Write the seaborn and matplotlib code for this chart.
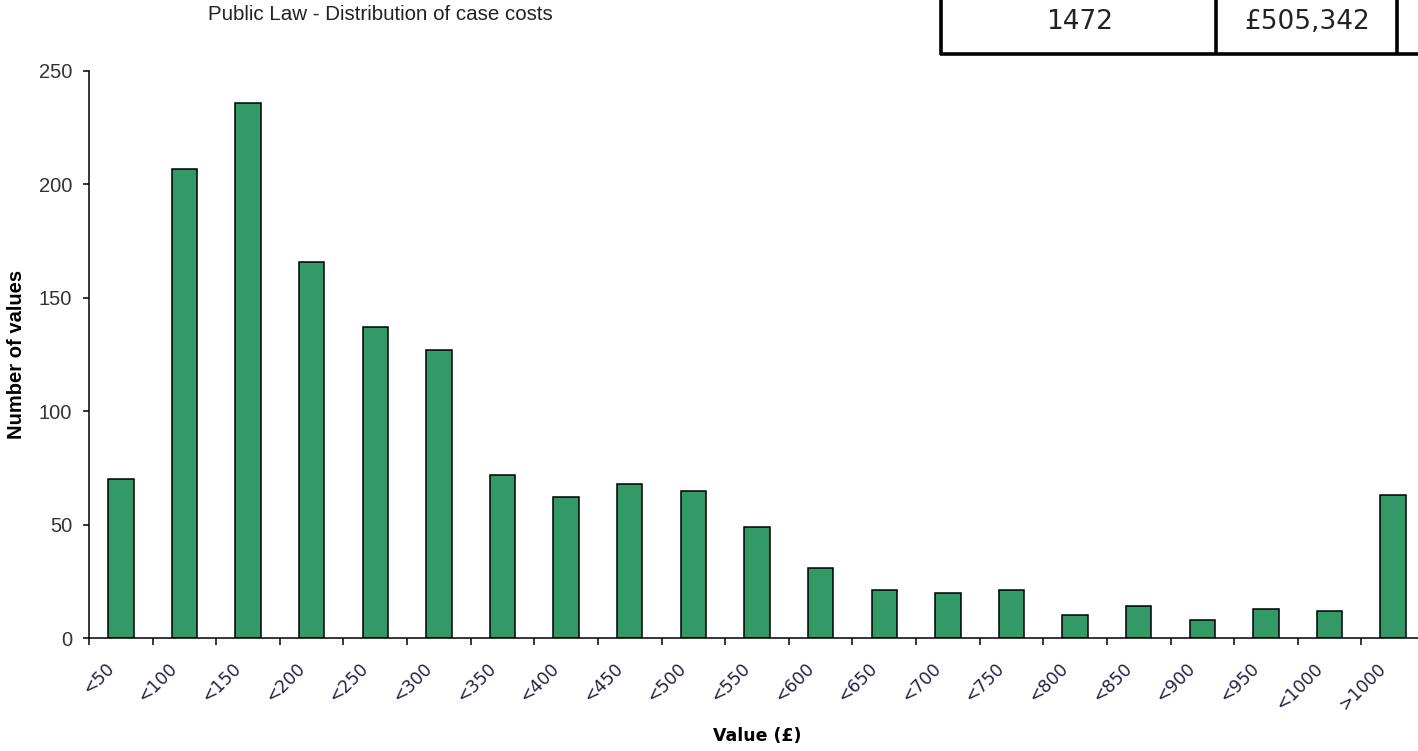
import matplotlib
matplotlib.use("Agg")
import matplotlib.pyplot as plt
import matplotlib.transforms as mtransforms
import seaborn as sns
import pandas as pd
from matplotlib.lines import Line2D

# === DATA ===
bins = ["<50", "<100", "<150", "<200", "<250", "<300", "<350", "<400", "<450", "<500",
        "<550", "<600", "<650", "<700", "<750", "<800", "<850", "<900", "<950", "<1000", ">1000"]
counts = [70, 207, 236, 166, 137, 127, 72, 62, 68, 65,
          49, 31, 21, 20, 21, 10, 14, 8, 13, 12, 63]
total_cases = "1472"
total_cost = "£505,342"

df = pd.DataFrame({"bin": bins, "count": counts})

sns.set_style("white")
plt.rcParams["font.family"] = ["Liberation Sans", "DejaVu Sans"]

W, H = 1418, 751
fig = plt.figure(figsize=(W / 100, H / 100), dpi=100)
ax = fig.add_axes([89 / W, (H - 638) / H, 1336 / W, 567 / H])

sns.barplot(data=df, x="bin", y="count", color="#339966", saturation=1,
            edgecolor="black", linewidth=1.1, width=0.4, ax=ax)

ax.set_xlim(-0.5, len(bins) - 0.5)
ax.set_ylim(0, 250)
ax.set_yticks(range(0, 251, 50))

# === AXES STYLE ===
for side in ["top", "right"]:
    ax.spines[side].set_visible(False)
for side in ["left", "bottom"]:
    ax.spines[side].set_color("black")
    ax.spines[side].set_linewidth(1.1)

ax.tick_params(axis="y", direction="out", length=4, width=1.1, color="black",
               labelsize=14.5, labelcolor="#333333", pad=8, left=True)
# category boundaries get the tick marks, labels sit at the centres
ax.set_xticks([i - 0.5 for i in range(len(bins) + 1)], minor=True)
ax.tick_params(axis="x", which="minor", direction="out", length=5, width=1.1, color="black", bottom=True)
ax.tick_params(axis="x", which="major", length=0, pad=20)
shift = mtransforms.ScaledTranslation(-7 / 72, 0, fig.dpi_scale_trans)
for lbl in ax.get_xticklabels():
    lbl.set_rotation(45)
    lbl.set_ha("right")
    lbl.set_va("center")
    lbl.set_rotation_mode("anchor")
    lbl.set_fontsize(12.5)
    lbl.set_family(["DejaVu Sans"])
    lbl.set_color("#222244")
    lbl.set_transform(lbl.get_transform() + shift)

ax.set_ylabel("Number of values", fontsize=14.5, fontweight="bold", color="black")
ax.yaxis.set_label_coords(-(89 - 26) / 1336, 0.5)
ax.set_xlabel("Value (£)", fontsize=12.5, fontweight="bold", color="black", family=["DejaVu Sans"])
ax.xaxis.set_label_coords(0.5, -(727 - 638) / 567)
ax.xaxis.label.set_va("top")

# === TITLE ===
fig.text(380 / W, 1 - 15 / H, "Public Law - Distribution of case costs",
         ha="center", va="center", fontsize=14.8, color="#222222")

# === SUMMARY TABLE (top right) ===
lw = 2.6
for x in [941, 1216, 1397]:
    fig.add_artist(Line2D([x / W, x / W], [1, 1 - 55 / H], transform=fig.transFigure,
                          color="black", linewidth=lw, solid_capstyle="butt"))
fig.add_artist(Line2D([939.5 / W, 1], [1 - 54 / H, 1 - 54 / H], transform=fig.transFigure,
                      color="black", linewidth=lw, solid_capstyle="butt"))
fig.text(1080 / W, 1 - 22 / H, total_cases, ha="center", va="center",
         fontsize=19, family=["DejaVu Sans"], color="#222222")
fig.text(1307 / W, 1 - 22 / H, total_cost, ha="center", va="center",
         fontsize=19, family=["DejaVu Sans"], color="#222222")

fig.savefig("out.png", dpi=100)
